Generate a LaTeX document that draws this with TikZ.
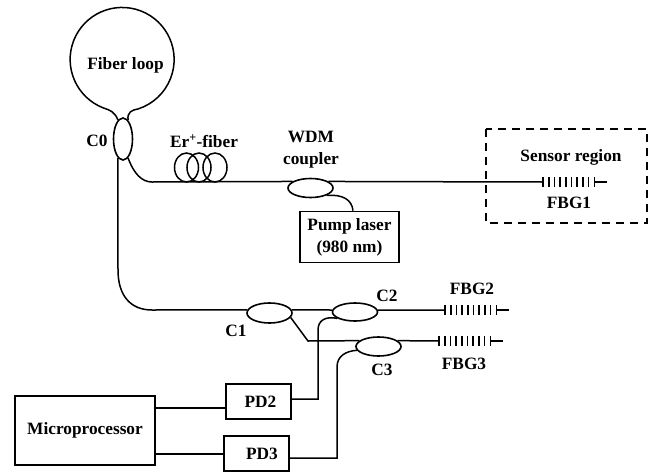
\documentclass[tikz,border=0pt]{standalone}
\usepackage{fontspec}
\setmainfont{Liberation Serif}
\usetikzlibrary{shapes.geometric}
\tikzset{
  fiber/.style={line width=1.5pt},
  coupler/.style={draw,ellipse,line width=1.6pt,inner sep=0pt,minimum width=45pt,minimum height=19pt},
  coil/.style={draw,ellipse,line width=1.5pt,inner sep=0pt,minimum width=24pt,minimum height=29pt},
  box/.style={draw,line width=1.7pt,inner sep=0pt,align=center,font=\fontsize{17.3}{22}\selectfont\bfseries},
  note/.style={inner sep=0pt,align=center,font=\fontsize{17.3}{22}\selectfont\bfseries},
  grating/.style={line width=1.6pt}
}
\begin{document}
\begin{tikzpicture}[x=1pt,y=-1pt]
      \useasboundingbox (0,0) rectangle (654,472);

      % COUPLERS
      \node[coupler,minimum width=19pt,minimum height=42pt] (c0) at (123,139) {};
      \node[coupler] (wdm) at (310.5,188) {};
      \node[coupler,minimum height=20pt] (c1) at (269.5,313) {};
      \node[coupler,minimum height=18pt] (c2) at (355,312) {};
      \node[coupler] (c3) at (378.5,346.5) {};

      % BOXES
      \node[box,minimum width=99pt,minimum height=51pt] (pump) at (349.5,237) {Pump laser\\(980 nm)};
      \node[box,minimum width=65pt,minimum height=35pt] (pd2) at (258.5,401.5) {\hspace*{4pt}PD2};
      \node[box,minimum width=65pt,minimum height=35pt] (pd3) at (256.5,453.5) {\hspace*{11pt}\raisebox{-4pt}{PD3}};
      \node[box,minimum width=140pt,minimum height=69pt] (micro) at (85,430.5) {\raisebox{-2pt}{Microprocessor}};

      % ERBIUM COIL
      \node[coil] (coil1) at (186.5,167.5) {};
      \node[coil] (coil2) at (199,167.5) {};
      \node[coil] (coil3) at (215,167.5) {};

      % GRATINGS
      \coordinate (fbg1) at (543,182);
      \coordinate (fbg2) at (445,310);
      \coordinate (fbg3) at (439,341);
      \foreach \g in {fbg1,fbg2,fbg3} {
        \foreach \k in {0,...,9}
          \draw[grating] ([xshift=\k*5.7pt,yshift=5pt]\g) -- ++(0,10);
        \draw[fiber] ([xshift=51.3pt]\g) -- ([xshift=64pt]\g);
      }

      % FIBERS
      \draw[fiber] (c0.105) .. controls (115,112) and (110,110) .. (103.5,108)
        arc[start angle=111,end angle=432,radius=52]
        .. controls (132,110) and (127,112) .. (c0.75);
      \draw[fiber] (c0.-75) .. controls (134,174) and (142,182) .. (152,182) -- (wdm.160);
      \draw[fiber] (wdm.20) -- (fbg1);
      \draw[fiber] (wdm.-25) .. controls (343,194) and (352,200) .. (pump.north -| 353,0);
      \draw[fiber] (c0.-105) -- (118,270) .. controls (118,295) and (130,310) .. (152,310) -- (c1.172);
      \draw[fiber] (c1.8) -- (c2.175);
      \draw[fiber] (c2.5) -- (fbg2);
      \draw[fiber] (c1.-12) -- (308,341) -- (c3.163);
      \draw[fiber] (c3.17) -- (fbg3);
      \draw[fiber] (c2.200) .. controls (326,316) and (318,320) .. (318,330) -- (318,399) -- (pd2.east |- 318,399);
      \draw[fiber] (c3.190) .. controls (346,351) and (337,356) .. (337,367) -- (337,458) -- (pd3.east |- 337,458);
      \draw[fiber] (micro.east |- 155,408) -- (pd2.west |- 155,408);
      \draw[fiber] (micro.east |- 155,454) -- (pd3.west |- 155,454);

      % SENSOR REGION
      \draw[line width=1.6pt,dash pattern=on 8pt off 6pt] (486,129) rectangle (647,223);

      % NOTES
      \node[note] (loopname) at (125.5,65) {Fiber loop};
      \node[note] (c0name) at (97,141) {C0};
      \node[note] (ername) at (204,141) {Er\textsuperscript{+}-fiber};
      \node[note] (wdmname) at (311,150) {WDM\\coupler};
      \node[note] (sensorname) at (571,157) {Sensor region};
      \node[note] (fbg1name) at (569,203) {FBG1};
      \node[note] (fbg2name) at (472,289) {FBG2};
      \node[note] (fbg3name) at (464,364) {FBG3};
      \node[note] (c1name) at (236,331) {C1};
      \node[note] (c2name) at (387,296) {C2};
      \node[note] (c3name) at (382,370) {C3};
\end{tikzpicture}
\end{document}
